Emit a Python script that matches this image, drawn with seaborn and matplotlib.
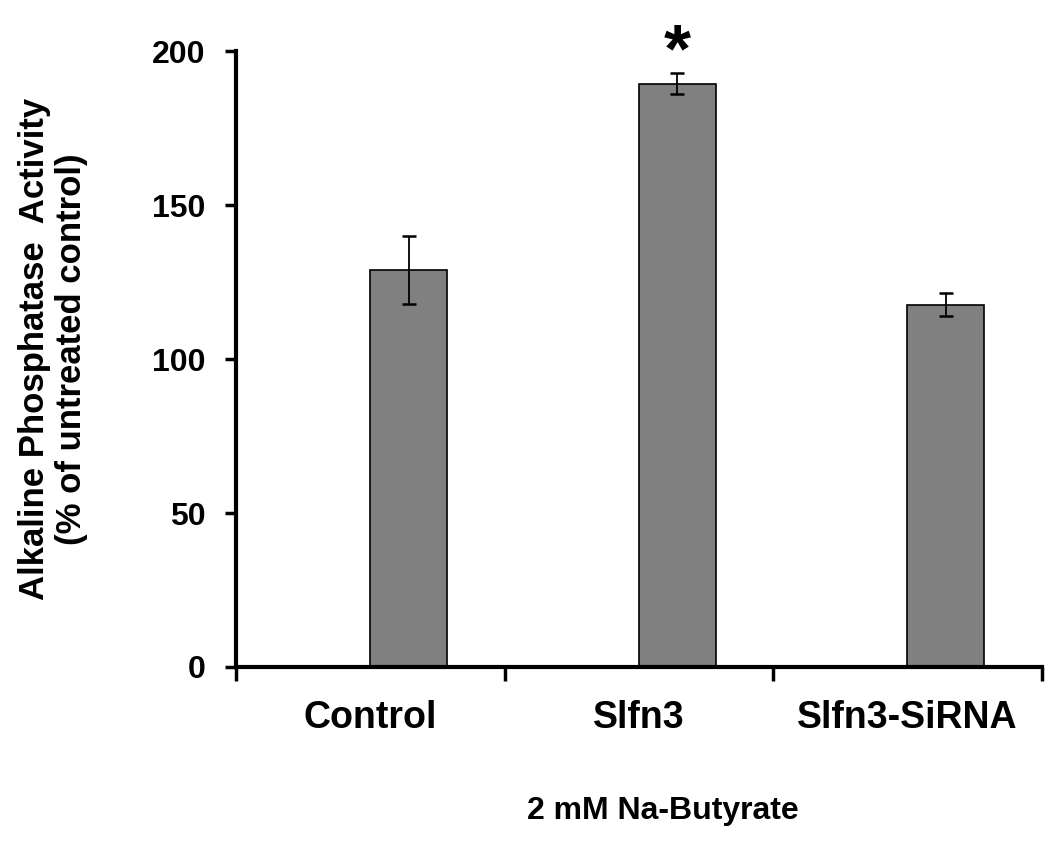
import numpy as np
import pandas as pd
import matplotlib
matplotlib.use('Agg')
import matplotlib.pyplot as plt
import seaborn as sns

groups = ['Control', 'Slfn3', 'Slfn3-SiRNA']
activity = [129, 189.5, 117.7]
sem = [11, 3.5, 3.7]
significant = [False, True, False]

sns.set_style('white')
plt.rcParams['font.family'] = ['Liberation Sans', 'DejaVu Sans']
plt.rcParams['text.color'] = 'black'
plt.rcParams['axes.labelcolor'] = 'black'
plt.rcParams['xtick.color'] = 'black'
plt.rcParams['ytick.color'] = 'black'

df = pd.DataFrame({'group': groups, 'activity': activity})

fig = plt.figure(figsize=(10.5, 8.41), dpi=100)
ax = fig.add_axes([0.225, 0.207, 0.767, 0.732])

bar_w = 0.286
sns.barplot(data=df, x='group', y='activity', color='#808080', saturation=1,
            width=bar_w, edgecolor='black', linewidth=1.2, ax=ax)
pos = np.arange(len(groups))
ax.errorbar(pos, activity, yerr=sem, fmt='none', ecolor='black',
            elinewidth=1.3, capsize=5, capthick=1.8, zorder=5)
for i, flag in enumerate(significant):
    if flag:
        # the asterisk glyph sits high in its text box, hence the small offset
        ax.text(pos[i], activity[i] + sem[i] - 4, '*', ha='center', va='bottom',
                fontsize=50, fontweight='bold')

# labels sit at the left edge of each bar, category boundaries carry the ticks
ax.set_xlim(-0.5 - bar_w / 2, len(groups) - 0.5 - bar_w / 2)
ax.set_xticks(pos - bar_w / 2)
ax.set_xticklabels(groups, fontsize=27, fontweight='bold')
ax.set_xticks(np.arange(len(groups) + 1) - 0.5 - bar_w / 2, minor=True)
ax.tick_params(axis='x', which='major', length=0, pad=24)
ax.tick_params(axis='x', which='minor', direction='out', length=10, width=2.5,
               color='black', bottom=True)

ax.set_ylim(0, 200)
ax.set_yticks([0, 50, 100, 150, 200])
ax.tick_params(axis='y', direction='out', length=8, width=2.5, color='black',
               left=True, labelsize=23, pad=14)
for lab in ax.get_yticklabels():
    lab.set_fontweight('bold')

sns.despine(ax=ax)
for side in ['left', 'bottom']:
    ax.spines[side].set_linewidth(3)
    ax.spines[side].set_color('black')

ax.set_xlabel('2 mM Na-Butyrate', fontsize=23, fontweight='bold')
ax.xaxis.set_label_coords(0.53, -0.209)
ax.set_ylabel('Alkaline Phosphatase  Activity\n(% of untreated control)',
              fontsize=25, fontweight='bold', linespacing=1.15)
ax.yaxis.set_label_coords(-0.184, 0.516)

fig.savefig('out.png', dpi=100)
